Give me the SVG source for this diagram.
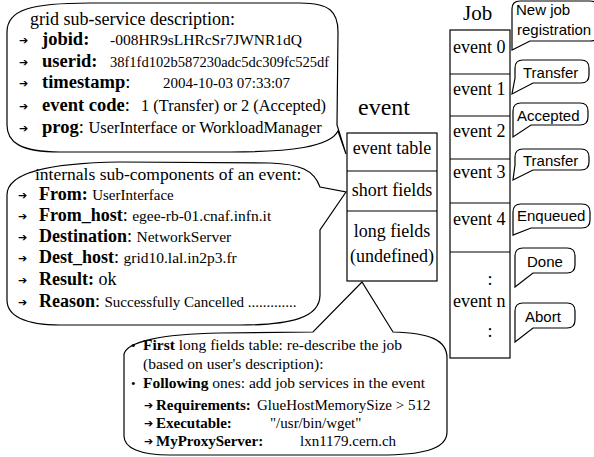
<svg xmlns="http://www.w3.org/2000/svg" width="594" height="457" viewBox="0 0 594 457">
<style>
.sh{fill:#fff;stroke:#000;stroke-width:1.2;stroke-linejoin:miter}
.box{fill:#fff;stroke:#000;stroke-width:1.2}
.sep{stroke:#000;stroke-width:1.2}
.se{font-family:"Liberation Serif","Times New Roman",serif;fill:#000}
.sa{font-family:"Liberation Sans",Arial,sans-serif;fill:#000;font-size:15px}
.b{font-weight:bold}
.ar{font-family:"DejaVu Sans",sans-serif;font-size:11px;fill:#000}
</style>
<rect width="594" height="457" fill="#fff"/>

<g id="callout-grid">
<path class="sh" d="M7,32 C7,10 30,3 90,3 L300,3 C330,3 338,12 338,32 L337,125 L346,154 L338,131 C330,147 290,152 230,152 L60,152 C20,152 7,142 7,125 Z"/>
<text class="se" x="30" y="25" font-size="18">grid sub-service description:</text>
<text class="ar" x="19" y="44">➔</text>
<text class="se b" x="42" y="45" font-size="18.5">jobid:</text>
<text class="se" x="110" y="45" font-size="15.5">-008HR9sLHRcSr7JWNR1dQ</text>
<text class="ar" x="19" y="66">➔</text>
<text class="se b" x="42" y="67" font-size="18.5">userid:</text>
<text class="se" x="110" y="67" font-size="14.5">38f1fd102b587230adc5dc309fc525df</text>
<text class="ar" x="19" y="87">➔</text>
<text class="se" x="42" y="88" font-size="18.5"><tspan class="b">timestamp</tspan>:</text>
<text class="se" x="163" y="88" font-size="15">2004-10-03 07:33:07</text>
<text class="ar" x="19" y="110">➔</text>
<text class="se" x="42" y="111" font-size="18.5"><tspan class="b">event code</tspan>:</text>
<text class="se" x="141" y="111" font-size="16.4">1 (Transfer) or 2 (Accepted)</text>
<text class="ar" x="19" y="132">➔</text>
<text class="se" x="42" y="133" font-size="18.5"><tspan class="b">prog</tspan>: <tspan font-size="16.4">UserInterface or WorkloadManager</tspan></text>
</g>

<g id="callout-internals">
<path class="sh" d="M7,195 C7,172 50,163 120,162 L270,163 C300,164 314,170 320,187 L346,192 L320,230 L320,295 C320,318 290,325 240,325 L60,325 C25,325 7,316 7,300 Z"/>
<text class="se" x="35" y="180" font-size="17.5">internals sub-components of an event:</text>
<text class="ar" x="18" y="199">➔</text>
<text class="se" x="39" y="200" font-size="18"><tspan class="b">From:</tspan> <tspan font-size="15">UserInterface</tspan></text>
<text class="ar" x="18" y="220">➔</text>
<text class="se" x="39" y="221" font-size="18"><tspan class="b">From_host</tspan>: <tspan font-size="15.5">egee-rb-01.cnaf.infn.it</tspan></text>
<text class="ar" x="18" y="241">➔</text>
<text class="se" x="39" y="242" font-size="18"><tspan class="b">Destination</tspan>: <tspan font-size="15.5">NetworkServer</tspan></text>
<text class="ar" x="18" y="262">➔</text>
<text class="se" x="39" y="263" font-size="18"><tspan class="b">Dest_host</tspan>: <tspan font-size="15.5">grid10.lal.in2p3.fr</tspan></text>
<text class="ar" x="18" y="284">➔</text>
<text class="se" x="39" y="285" font-size="18"><tspan class="b">Result:</tspan> ok</text>
<text class="ar" x="18" y="306">➔</text>
<text class="se" x="39" y="307" font-size="18"><tspan class="b">Reason</tspan>: <tspan font-size="15">Successfully Cancelled .............</tspan></text>
</g>

<g id="callout-long">
<path class="sh" d="M124,354 C127,342 160,334 220,333 L313,332 L362,282 L393,332 C430,333 447,340 447,358 L447,432 C447,450 420,455 380,455 L170,455 C140,455 124,448 124,436 Z"/>
<text class="se" x="131" y="350" font-size="13">•</text>
<text class="se" x="143" y="350" font-size="15.5"><tspan class="b">First</tspan> long fields table: re-describe the job</text>
<text class="se" x="143" y="369" font-size="15.5">(based on user's description):</text>
<text class="se" x="131" y="388" font-size="13">•</text>
<text class="se" x="143" y="388" font-size="15.5"><tspan class="b">Following</tspan> ones: add job services in the event</text>
<text class="ar" x="144" y="409" font-size="9">➔</text>
<text class="se b" x="156" y="410" font-size="15">Requirements:</text>
<text class="se" x="257" y="410" font-size="15">GlueHostMemorySize &gt; 512</text>
<text class="ar" x="144" y="427" font-size="9">➔</text>
<text class="se b" x="156" y="428" font-size="15">Executable:</text>
<text class="se" x="270" y="428" font-size="15">"/usr/bin/wget"</text>
<text class="ar" x="144" y="445" font-size="9">➔</text>
<text class="se b" x="156" y="446" font-size="15">MyProxyServer:</text>
<text class="se" x="300" y="446" font-size="15">lxn1179.cern.ch</text>
</g>

<g id="event">
<text class="se" x="358" y="115" font-size="24">event</text>
<rect class="box" x="347" y="133" width="90" height="148"/>
<line class="sep" x1="347" y1="171" x2="437" y2="171"/>
<line class="sep" x1="347" y1="211" x2="437" y2="211"/>
<text class="se" x="392" y="154" font-size="18" text-anchor="middle">event table</text>
<text class="se" x="392" y="196" font-size="18" text-anchor="middle">short fields</text>
<text class="se" x="392" y="237" font-size="18" text-anchor="middle">long fields</text>
<text class="se" x="392" y="262" font-size="18" text-anchor="middle">(undefined)</text>
</g>

<g id="job">
<text class="se" x="463" y="20" font-size="21">Job</text>
<rect class="box" x="450" y="30" width="60" height="328"/>
<line class="sep" x1="450" y1="74" x2="510" y2="74"/>
<line class="sep" x1="450" y1="116" x2="510" y2="116"/>
<line class="sep" x1="450" y1="159" x2="510" y2="159"/>
<line class="sep" x1="450" y1="203" x2="510" y2="203"/>
<line class="sep" x1="450" y1="252" x2="510" y2="252"/>
<text class="se" x="453" y="53" font-size="18">event 0</text>
<text class="se" x="453" y="95" font-size="18">event 1</text>
<text class="se" x="453" y="137" font-size="18">event 2</text>
<text class="se" x="453" y="178" font-size="18">event 3</text>
<text class="se" x="453" y="225" font-size="18">event 4</text>
<text class="se" x="490" y="285" font-size="18" text-anchor="middle">:</text>
<text class="se" x="453" y="307" font-size="18">event n</text>
<text class="se" x="490" y="337" font-size="18" text-anchor="middle">:</text>
</g>

<g id="c-newjob">
<path class="sh" d="M520,1 H590 Q598,1 598,9 V33 Q598,41 590,41 H530 L512,50 L512,36 V9 Q512,1 520,1 Z"/>
<text class="sa" x="516" y="15">New job</text>
<text class="sa" x="517" y="35">registration</text>
</g>
<g id="c-transfer1">
<path class="sh" d="M523,60 H581 Q589,60 589,68 V75 Q589,83 581,83 H533 L512,94 L515,78 V68 Q515,60 523,60 Z"/>
<text class="sa" x="523" y="78">Transfer</text>
</g>
<g id="c-accepted">
<path class="sh" d="M521,103 H580 Q588,103 588,111 V117 Q588,125 580,125 H531 L513,137 L513,120 V111 Q513,103 521,103 Z"/>
<text class="sa" x="517" y="121">Accepted</text>
</g>
<g id="c-transfer2">
<path class="sh" d="M523,149 H581 Q589,149 589,157 V162 Q589,170 581,170 H533 L513,180 L515,165 V157 Q515,149 523,149 Z"/>
<text class="sa" x="523" y="166">Transfer</text>
</g>
<g id="c-enqueued">
<path class="sh" d="M521,204 H582 Q590,204 590,212 V220 Q590,228 582,228 H531 L513,235 L513,223 V212 Q513,204 521,204 Z"/>
<text class="sa" x="517" y="221">Enqueued</text>
</g>
<g id="c-done">
<path class="sh" d="M523,248 H567 Q575,248 575,256 V265 Q575,273 567,273 H533 L515,287 L515,268 V256 Q515,248 523,248 Z"/>
<text class="sa" x="527" y="267">Done</text>
</g>
<g id="c-abort">
<path class="sh" d="M523,303 H567 Q575,303 575,311 V320 Q575,328 567,328 H533 L515,342 L515,323 V311 Q515,303 523,303 Z"/>
<text class="sa" x="525" y="322">Abort</text>
</g>
<g id="connectors"></g>
</svg>
